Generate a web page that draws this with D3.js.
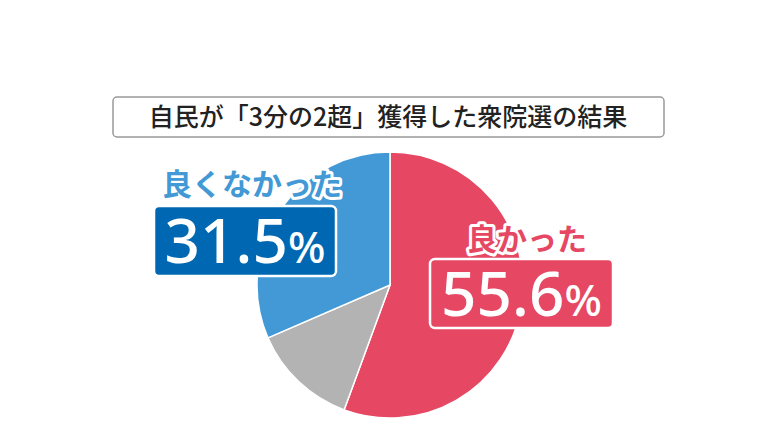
<!DOCTYPE html>
<html><head><meta charset="utf-8">
<script src="https://cdn.jsdelivr.net/npm/d3@7"></script>
<style>body{margin:0;background:#fff;font-family:"Noto Sans CJK JP",sans-serif;}</style>
</head><body>
<script>
var labels = ['良かった', 'その他', '良くなかった'];
var values = [55.6, 12.9, 31.5];
var colors = ['#e64762', '#b3b3b3', '#4299d5'];

var svg = d3.select('body').append('svg').attr('width', 780).attr('height', 438);

// title
svg.append('rect').attr('x', 113).attr('y', 97).attr('width', 551).attr('height', 40)
    .attr('rx', 4).attr('fill', '#fff').attr('stroke', '#999').attr('stroke-width', 1.5);
svg.append('text').attr('x', 388).attr('y', 126).attr('text-anchor', 'middle')
    .attr('font-size', 25).attr('font-weight', 500).attr('fill', '#222')
    .text('自民が「3分の2超」獲得した衆院選の結果');

var pie = d3.pie().sort(null).value(function(d) { return d; });
var arc = d3.arc().innerRadius(0).outerRadius(133);
var g = svg.append('g').attr('transform', 'translate(390,285)');
g.selectAll('path').data(pie(values)).enter().append('path')
    .attr('d', arc)
    .attr('fill', function(d, i) { return colors[i]; })
    .attr('stroke', '#fff').attr('stroke-width', 1.5);

function callout(name, val, color, boxColor, bx, by, bw, bh, tx, ty) {
    svg.append('text').attr('x', tx).attr('y', ty)
        .attr('font-size', 30).attr('font-weight', 700).attr('fill', color)
        .attr('stroke', '#fff').attr('stroke-width', 6).attr('paint-order', 'stroke')
        .attr('stroke-linejoin', 'round').text(name);
    svg.append('rect').attr('x', bx).attr('y', by).attr('width', bw).attr('height', bh)
        .attr('rx', 5).attr('fill', boxColor).attr('stroke', '#fff').attr('stroke-width', 2.5);
    var t = svg.append('text').attr('x', bx + bw / 2).attr('y', by + bh / 2 + 22)
        .attr('text-anchor', 'middle').attr('fill', '#fff').attr('font-weight', 500)
        .attr('font-family', 'Noto Sans, sans-serif');
    t.append('tspan').attr('font-size', 62).text(val.toFixed(1));
    t.append('tspan').attr('font-size', 44).text('%');
}
callout(labels[2], values[2], '#4299d5', '#0068b3', 154, 206, 182, 70, 162, 195);
callout(labels[0], values[0], '#e64762', '#e64762', 430, 259, 183, 69, 467, 250);
</script>
</body></html>
